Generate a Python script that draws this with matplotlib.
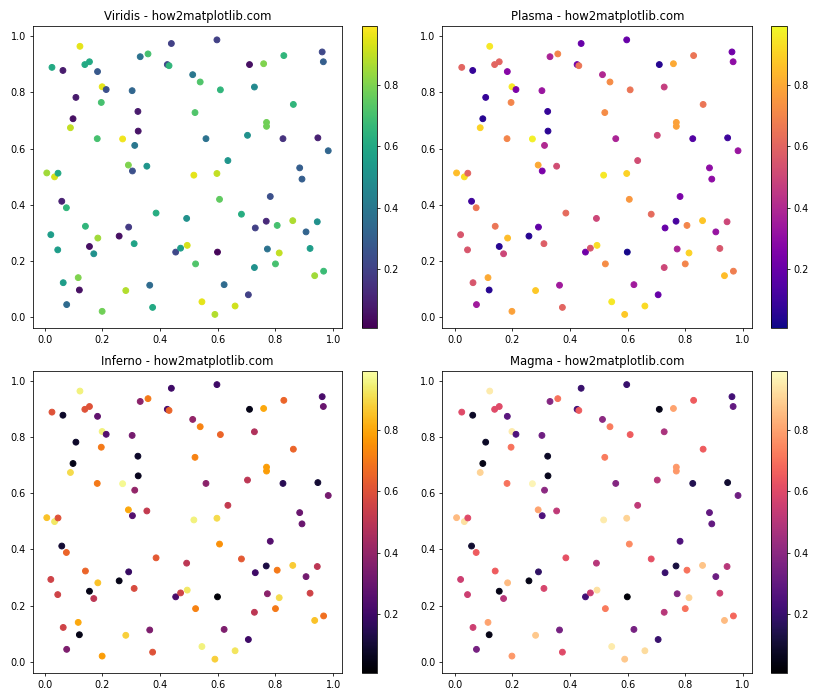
import matplotlib
matplotlib.use("Agg")
import matplotlib.pyplot as plt
import numpy as np

# point positions and colour values
x = [0.122, 0.025, 0.063, 0.139, 0.155, 0.183, 0.199, 0.213, 0.108, 0.196,
     0.098, 0.089, 0.182, 0.270, 0.312, 0.323, 0.324, 0.303, 0.331, 0.358,
     0.439, 0.425, 0.431, 0.513, 0.539, 0.521, 0.290, 0.304, 0.354, 0.517,
     0.007, 0.034, 0.046, 0.597, 0.710, 0.759, 0.829, 0.962, 0.966, 0.609,
     0.727, 0.862, 0.769, 0.769, 0.559, 0.703, 0.826, 0.947, 0.983, 0.635,
     0.884, 0.892, 0.597, 0.059, 0.075, 0.021, 0.141, 0.184, 0.045, 0.155,
     0.170, 0.258, 0.291, 0.310, 0.386, 0.492, 0.454, 0.471, 0.494, 0.523,
     0.064, 0.116, 0.120, 0.076, 0.281, 0.364, 0.374, 0.199, 0.545, 0.782,
     0.606, 0.682, 0.730, 0.768, 0.806, 0.860, 0.945, 0.906, 0.599, 0.772,
     0.813, 0.920, 0.727, 0.800, 0.936, 0.967, 0.622, 0.706, 0.660, 0.590]
y = [0.964, 0.889, 0.878, 0.899, 0.909, 0.874, 0.820, 0.810, 0.782, 0.764,
     0.706, 0.674, 0.635, 0.634, 0.611, 0.732, 0.662, 0.806, 0.927, 0.937,
     0.974, 0.899, 0.895, 0.863, 0.837, 0.728, 0.541, 0.520, 0.537, 0.505,
     0.513, 0.499, 0.512, 0.987, 0.899, 0.902, 0.931, 0.944, 0.909, 0.809,
     0.819, 0.757, 0.693, 0.679, 0.635, 0.647, 0.635, 0.638, 0.592, 0.557,
     0.531, 0.491, 0.511, 0.412, 0.389, 0.293, 0.323, 0.281, 0.239, 0.251,
     0.225, 0.288, 0.320, 0.261, 0.370, 0.351, 0.231, 0.245, 0.255, 0.189,
     0.122, 0.140, 0.096, 0.044, 0.094, 0.113, 0.034, 0.020, 0.054, 0.429,
     0.419, 0.366, 0.317, 0.341, 0.326, 0.343, 0.339, 0.303, 0.231, 0.242,
     0.228, 0.244, 0.176, 0.189, 0.147, 0.163, 0.115, 0.079, 0.039, 0.009]
c = [0.95, 0.60, 0.08, 0.60, 0.60, 0.28, 0.95, 0.25, 0.08, 0.70,
     0.05, 0.90, 0.70, 0.97, 0.40, 0.08, 0.06, 0.33, 0.38, 0.70,
     0.20, 0.22, 0.65, 0.40, 0.72, 0.72, 0.80, 0.25, 0.52, 0.95,
     0.85, 0.93, 0.60, 0.20, 0.05, 0.80, 0.65, 0.22, 0.30, 0.65,
     0.47, 0.65, 0.78, 0.78, 0.38, 0.50, 0.15, 0.10, 0.33, 0.52,
     0.30, 0.30, 0.90, 0.10, 0.65, 0.55, 0.65, 0.85, 0.55, 0.05,
     0.50, 0.05, 0.18, 0.58, 0.62, 0.50, 0.22, 0.55, 0.93, 0.72,
     0.55, 0.80, 0.05, 0.35, 0.88, 0.35, 0.60, 0.78, 0.95, 0.25,
     0.75, 0.62, 0.20, 0.12, 0.70, 0.87, 0.50, 0.32, 0.02, 0.38,
     0.90, 0.55, 0.50, 0.70, 0.85, 0.68, 0.35, 0.20, 0.92, 0.88]

cmaps = ['viridis', 'plasma', 'inferno', 'magma']

fig, axs = plt.subplots(2, 2, figsize=(12, 10))

for ax, cmap in zip(axs.flat, cmaps):
    sc = ax.scatter(x, y, c=c, cmap=cmap, vmin=0.008, vmax=0.992)
    ax.set_title(f"{cmap.capitalize()} - how2matplotlib.com")
    plt.colorbar(sc, ax=ax)

plt.tight_layout()
plt.savefig("out.png", dpi=70)
